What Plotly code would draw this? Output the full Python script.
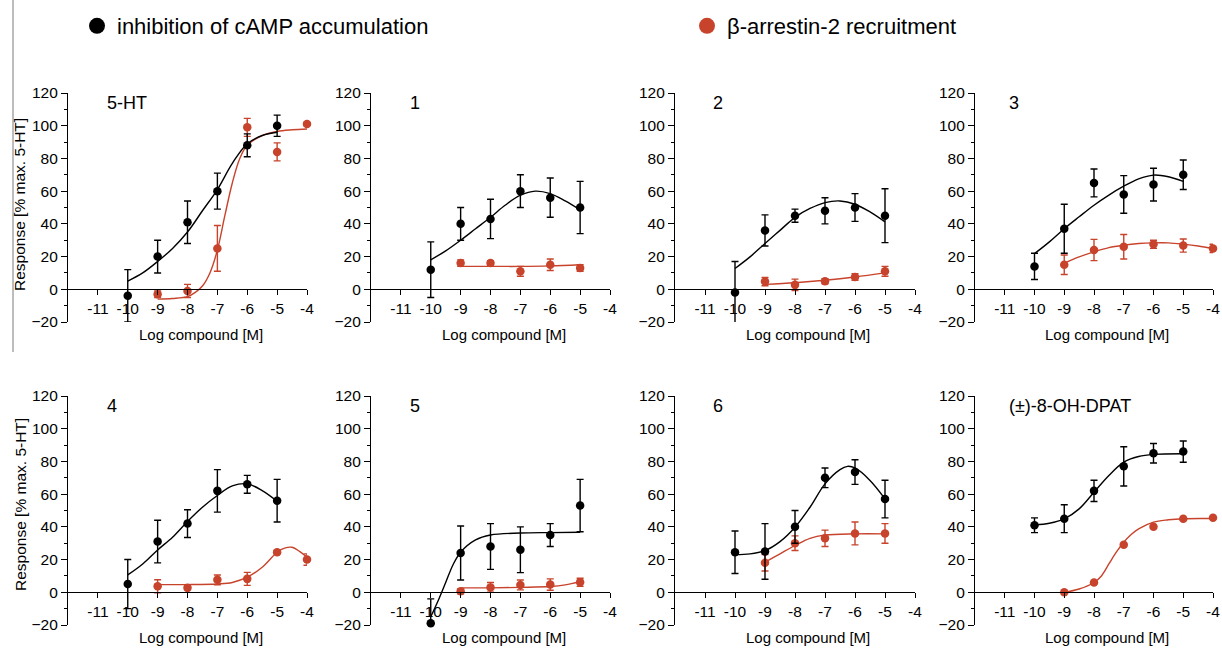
import plotly.graph_objects as go

# ---------------- data ----------------
panel_labels = ["5-HT", "1", "2", "3", "4", "5", "6", "(±)-8-OH-DPAT"]
x_ticks = [-11, -10, -9, -8, -7, -6, -5, -4]
y_ticks = [-20, 0, 20, 40, 60, 80, 100, 120]

camp_x = [-10, -9, -8, -7, -6, -5]
arr_x6 = [-9, -8, -7, -6, -5, -4]
arr_x5 = [-9, -8, -7, -6, -5]

# 5-HT
camp_y_5ht = [-4, 20, 41, 60, 88, 100]
camp_e_5ht = [16, 10, 13, 11, 7, 6.5]
arr_y_5ht = [-3, -1, 25, 99, 84, 101]
arr_e_5ht = [2, 4, 14, 5.5, 5.5, 1]
fit_camp_x_5ht = [-10, -9.5, -9, -8.5, -8, -7.5, -7, -6.5, -6, -5.5, -5]
fit_camp_y_5ht = [5, 10, 17, 25, 35, 48, 61, 77, 89, 94, 96]
fit_arr_x_5ht = [-9, -8.5, -8, -7.75, -7.5, -7.25, -7, -6.75, -6.5, -6.25, -6, -5.5, -5, -4.5, -4]
fit_arr_y_5ht = [-6, -5.6, -4.5, -2, 2, 10, 24, 45, 65, 80, 88, 94, 96.5, 97.5, 98]

# compound 1
camp_y_1 = [12, 40, 43, 60, 56, 50]
camp_e_1 = [17, 10, 12, 10, 12, 16]
arr_y_1 = [16, 16, 11, 15, 13]
arr_e_1 = [2, 1.5, 3, 3.5, 2]
fit_camp_x_1 = [-10, -9.5, -9, -8.5, -8, -7.5, -7, -6.5, -6, -5.5, -5]
fit_camp_y_1 = [18, 23.5, 30, 37, 44, 51.5, 57.5, 60, 58.5, 54, 48.5]
fit_arr_x_1 = [-9, -8, -7, -6, -5]
fit_arr_y_1 = [14, 14, 14, 14.3, 15]

# compound 2
camp_y_2 = [-2, 36, 45, 48, 50, 45]
camp_e_2 = [19, 9.5, 4, 8, 8.5, 16.5]
arr_y_2 = [4.7, 2.7, 4.9, 7.5, 11]
arr_e_2 = [2.5, 3.5, 1.5, 2, 3]
fit_camp_x_2 = [-10, -9.5, -9, -8.5, -8, -7.5, -7, -6.5, -6, -5.5, -5]
fit_camp_y_2 = [12.7, 19.8, 28, 36, 44, 49.4, 53, 54, 52, 47.3, 41.2]
fit_arr_x_2 = [-9, -8, -7, -6, -5]
fit_arr_y_2 = [3, 4, 5.5, 7.5, 10]

# compound 3
camp_y_3 = [14, 37, 65, 58, 64, 70]
camp_e_3 = [8, 15, 8.5, 11.5, 10, 9]
arr_y_3 = [15, 24, 26, 27.5, 26.7, 25]
arr_e_3 = [6, 6.5, 7.5, 2.5, 4, 2.5]
fit_camp_x_3 = [-10, -9.5, -9, -8.5, -8, -7.5, -7, -6.5, -6, -5.5, -5]
fit_camp_y_3 = [21.8, 29, 37, 44.3, 51.4, 57.6, 63, 67.5, 69.8, 68.8, 66]
fit_arr_x_3 = [-9, -8.5, -8, -7.5, -7, -6.5, -6, -5.5, -5, -4.5, -4]
fit_arr_y_3 = [16, 19.8, 22.9, 25.5, 27, 28, 28.4, 28.4, 27.6, 26.5, 25]

# compound 4
camp_y_4 = [5, 31, 42, 62, 66, 56]
camp_e_4 = [15, 13, 8.5, 13, 5.5, 13]
arr_y_4 = [3.7, 2.7, 7.6, 8.2, 24.5, 20]
arr_e_4 = [4, 1, 3, 4, 1, 3.5]
fit_camp_x_4 = [-10, -9.5, -9, -8.5, -8, -7.5, -7, -6.5, -6, -5.5, -5]
fit_camp_y_4 = [10.6, 17.3, 25.9, 33.7, 43.3, 52, 59.2, 65, 66.3, 62.2, 55.7]
fit_arr_x_4 = [-9, -8, -7, -6.5, -6, -5.5, -5, -4.75, -4.5, -4.25, -4]
fit_arr_y_4 = [4.7, 4.7, 5.1, 6, 9.2, 15.3, 24.5, 27, 27.5, 25, 21.4]

# compound 5
camp_y_5 = [-19, 24, 28, 26, 35, 53]
camp_e_5 = [15, 16.5, 14, 14, 7, 16]
arr_y_5 = [0.6, 3, 4.5, 4.7, 6.1]
arr_e_5 = [1.5, 3, 3, 3.5, 2.5]
fit_camp_x_5 = [-10, -9.75, -9.5, -9.25, -9, -8.5, -8, -7, -6, -5]
fit_camp_y_5 = [-15, -5, 6, 17, 24.5, 32, 35, 36.2, 36.5, 36.7]
fit_arr_x_5 = [-9, -8, -7, -6, -5.5, -5]
fit_arr_y_5 = [2.7, 2.7, 3, 3.5, 4.5, 6.5]

# compound 6
camp_y_6 = [24.5, 25, 40, 70, 73.5, 57]
camp_e_6 = [13, 17, 10, 6, 7.5, 11.5]
arr_y_6 = [18, 30, 33, 36, 36]
arr_e_6 = [5, 4.5, 5, 7, 6]
fit_camp_x_6 = [-10, -9.5, -9, -8.5, -8, -7.5, -7, -6.5, -6.25, -6, -5.5, -5]
fit_camp_y_6 = [23, 23.5, 25.5, 31, 39.8, 52, 66.3, 75, 77, 76, 68.4, 57.1]
fit_arr_x_6 = [-9, -8.5, -8, -7.5, -7, -6, -5]
fit_arr_y_6 = [18.4, 23.5, 28.6, 33, 35, 35.7, 35.7]

# (±)-8-OH-DPAT
camp_y_dpat = [41, 45, 62, 77, 85, 86]
camp_e_dpat = [4.5, 8.5, 6.5, 12, 6, 6.5]
arr_y_dpat = [0, 6, 29, 40, 45, 45.5]
arr_e_dpat = [0, 0, 0, 0, 0, 0]
fit_camp_x_dpat = [-10, -9.5, -9, -8.5, -8, -7.5, -7, -6.5, -6, -5]
fit_camp_y_dpat = [41.2, 42.2, 44.9, 51, 61.2, 71.4, 79.6, 83, 84.3, 84.7]
fit_arr_x_dpat = [-9, -8.5, -8, -7.75, -7.5, -7.25, -7, -6.75, -6.5, -6, -5.5, -5, -4]
fit_arr_y_dpat = [0, 2, 6, 10, 17.3, 24.5, 30.6, 35.3, 38.8, 42.9, 44.3, 45, 45.1]

panels = [
    (camp_y_5ht, camp_e_5ht, arr_x6, arr_y_5ht, arr_e_5ht, fit_camp_x_5ht, fit_camp_y_5ht, fit_arr_x_5ht, fit_arr_y_5ht),
    (camp_y_1, camp_e_1, arr_x5, arr_y_1, arr_e_1, fit_camp_x_1, fit_camp_y_1, fit_arr_x_1, fit_arr_y_1),
    (camp_y_2, camp_e_2, arr_x5, arr_y_2, arr_e_2, fit_camp_x_2, fit_camp_y_2, fit_arr_x_2, fit_arr_y_2),
    (camp_y_3, camp_e_3, arr_x6, arr_y_3, arr_e_3, fit_camp_x_3, fit_camp_y_3, fit_arr_x_3, fit_arr_y_3),
    (camp_y_4, camp_e_4, arr_x6, arr_y_4, arr_e_4, fit_camp_x_4, fit_camp_y_4, fit_arr_x_4, fit_arr_y_4),
    (camp_y_5, camp_e_5, arr_x5, arr_y_5, arr_e_5, fit_camp_x_5, fit_camp_y_5, fit_arr_x_5, fit_arr_y_5),
    (camp_y_6, camp_e_6, arr_x5, arr_y_6, arr_e_6, fit_camp_x_6, fit_camp_y_6, fit_arr_x_6, fit_arr_y_6),
    (camp_y_dpat, camp_e_dpat, arr_x6, arr_y_dpat, arr_e_dpat, fit_camp_x_dpat, fit_camp_y_dpat, fit_arr_x_dpat, fit_arr_y_dpat),
]

# ---------------- styling / layout ----------------
W, H = 1222, 648
BLACK = "#000000"
RED = "#c8432b"
FONT = "Liberation Sans, Arial, sans-serif"

col_px = [(68, 307), (371, 610), (675, 915), (975, 1213)]
row_px = [(93, 322), (396, 625)]  # top pixel (y=120), bottom pixel (y=-20)
label_dx = [0.155, 0.155, 0.150, 0.135]

fig = go.Figure()
legend_common = dict(orientation="h", xanchor="left", yanchor="middle",
                     font=dict(size=22, family=FONT), bgcolor="rgba(0,0,0,0)",
                     itemclick=False, itemdoubleclick=False)
layout = dict(
    width=W, height=H,
    margin=dict(l=0, r=0, t=0, b=0, autoexpand=False),
    paper_bgcolor="white", plot_bgcolor="white",
    font=dict(family=FONT, color="black", size=15),
    showlegend=True,
    legend=dict(x=77 / W, y=1 - 26 / H, **legend_common),
    legend2=dict(x=687 / W, y=1 - 26 / H, **legend_common),
)
annotations = []

for i, p in enumerate(panels):
    cy, ce, ax, ay, ae, fcx, fcy, fax, fay = p
    r, c = divmod(i, 4)
    n = i + 1
    xs = "" if n == 1 else str(n)
    x0, x1 = col_px[c]
    t, b = row_px[r]
    xdom = [x0 / W, x1 / W]
    ydom = [1 - b / H, 1 - t / H]
    xpos = ydom[0] + (20 / 140) * (ydom[1] - ydom[0])

    layout["xaxis" + xs] = dict(
        domain=xdom, range=[-12, -4], anchor="free", position=xpos,
        tickvals=x_ticks, ticktext=[str(v) for v in x_ticks],
        ticks="outside", ticklen=5, tickwidth=1.2, tickcolor="black",
        showline=True, linecolor="black", linewidth=1.2,
        showgrid=False, zeroline=False, tickfont=dict(size=15.5),
    )
    layout["yaxis" + xs] = dict(
        domain=ydom, range=[-20, 120], anchor="x" + xs,
        tickvals=y_ticks, ticks="outside", ticklen=6, tickwidth=1.2, tickcolor="black",
        minor=dict(ticks="outside", dtick=10, tick0=0, ticklen=3, tickwidth=1.2, tickcolor="black"),
        showline=True, linecolor="black", linewidth=1.2,
        showgrid=False, zeroline=False, tickfont=dict(size=15.5),
    )
    xr, yr = "x" + xs, "y" + xs

    fig.add_trace(go.Scatter(x=fax, y=fay, mode="lines", line=dict(color=RED, width=1.4, shape="spline", smoothing=1),
                             xaxis=xr, yaxis=yr, showlegend=False, hoverinfo="skip"))
    fig.add_trace(go.Scatter(x=fcx, y=fcy, mode="lines", line=dict(color=BLACK, width=1.4, shape="spline", smoothing=1),
                             xaxis=xr, yaxis=yr, showlegend=False, hoverinfo="skip"))
    fig.add_trace(go.Scatter(x=ax, y=ay, mode="markers", marker=dict(color=RED, size=8.5),
                             error_y=dict(type="data", array=ae, visible=True, color=RED, thickness=1.4, width=3.5),
                             xaxis=xr, yaxis=yr, showlegend=False, cliponaxis=False,
                             name="β-arrestin-2 recruitment"))
    fig.add_trace(go.Scatter(x=camp_x, y=cy, mode="markers", marker=dict(color=BLACK, size=8.5),
                             error_y=dict(type="data", array=ce, visible=True, color=BLACK, thickness=1.4, width=3.5),
                             xaxis=xr, yaxis=yr, showlegend=False, cliponaxis=False,
                             name="inhibition of cAMP accumulation"))

    # panel label
    annotations.append(dict(text=panel_labels[i], xref=xr + " domain", yref=yr, x=label_dx[c], y=113.8,
                            xanchor="left", yanchor="middle", showarrow=False, font=dict(size=18)))
    # x-axis title
    annotations.append(dict(text="Log compound [M]", xref=xr + " domain", yref="paper",
                            x=0.555, y=1 - (334 if r == 0 else 637) / H,
                            xanchor="center", yanchor="middle", showarrow=False, font=dict(size=15)))
    if c == 0:
        annotations.append(dict(text="Response [% max. 5-HT]", xref="paper", yref="paper",
                                x=20 / W, y=1 - ((205 if r == 0 else 505) / H), textangle=-90,
                                xanchor="center", yanchor="middle", showarrow=False, font=dict(size=15.5)))

# legend entries
fig.add_trace(go.Scatter(x=[None], y=[None], mode="markers", marker=dict(color=BLACK, size=16),
                         name="inhibition of cAMP accumulation", showlegend=True, legend="legend"))
fig.add_trace(go.Scatter(x=[None], y=[None], mode="markers", marker=dict(color=RED, size=16),
                         name="β-arrestin-2 recruitment", showlegend=True, legend="legend2"))

layout["annotations"] = annotations
layout["shapes"] = [dict(type="line", xref="paper", yref="paper", x0=13 / W, x1=13 / W,
                         y0=1, y1=1 - 352 / H, line=dict(color="#7a7a7a", width=1))]
fig.update_layout(**layout)
fig.write_html("out.html", config={"displayModeBar": False},
               post_script="document.body.style.margin='0';document.body.style.padding='0';")
